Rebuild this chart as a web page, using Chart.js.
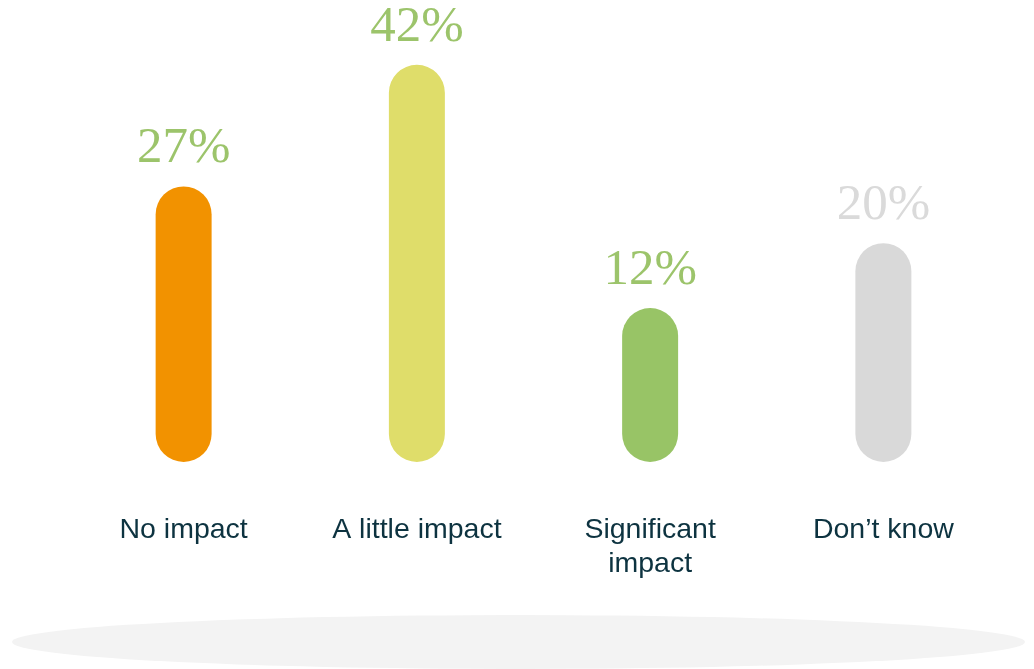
<!DOCTYPE html>
<html>
<head>
  <meta charset="UTF-8">
  <title>Impact</title>
  <script src="https://cdn.jsdelivr.net/npm/chart.js"></script>
  <style>
    html, body { margin: 0; padding: 0; background: #fff; }
    #wrap { position: relative; width: 1034px; height: 669px; overflow: hidden; }
    #shadow { position: absolute; left: 12px; top: 615px; width: 1013px; height: 54px; border-radius: 50%; background: #f3f3f3; }
    canvas { position: absolute; left: 0; top: 0; }
  </style>
</head>
<body>
<div id="wrap">
  <div id="shadow"></div>
  <canvas id="chart" width="1034" height="669"></canvas>
</div>
<script>
  const categories = ['No impact', 'A little impact', ['Significant', 'impact'], 'Don\u2019t know'];
  const values = [27, 42, 12, 20];
  const barColors = ['#f29200', '#dfdd6a', '#98c466', '#d9d9d9'];
  const labelColors = ['#9cc46b', '#9cc46b', '#9cc46b', '#dadada'];

  const valueLabels = {
    id: 'valueLabels',
    afterDatasetsDraw(chart) {
      const ctx = chart.ctx;
      const meta = chart.getDatasetMeta(0);
      ctx.save();
      ctx.font = '51px "Liberation Serif", serif';
      ctx.textAlign = 'center';
      ctx.textBaseline = 'alphabetic';
      meta.data.forEach((bar, i) => {
        ctx.fillStyle = labelColors[i];
        ctx.fillText(values[i] + '%', bar.x, bar.y - 24);
      });
      ctx.restore();
    }
  };

  new Chart(document.getElementById('chart').getContext('2d'), {
    type: 'bar',
    data: {
      labels: categories,
      datasets: [{
        data: values,
        base: -7,
        backgroundColor: barColors,
        borderRadius: 28,
        borderSkipped: false,
        barPercentage: 0.24,
        categoryPercentage: 1
      }]
    },
    options: {
      responsive: false,
      animation: false,
      layout: { padding: { left: 67, right: 34, top: 0, bottom: 0 } },
      plugins: { legend: { display: false }, tooltip: { enabled: false } },
      scales: {
        x: {
          grid: { display: false, drawTicks: false },
          border: { display: false },
          ticks: {
            color: '#0d3340',
            font: { family: 'Arial, "Liberation Sans", sans-serif', size: 28.5, lineHeight: 1.2 },
            padding: 51,
            maxRotation: 0
          },
          afterFit(scale) { scale.height = 207; }
        },
        y: {
          display: false,
          min: -7,
          max: 50
        }
      }
    },
    plugins: [valueLabels]
  });
</script>
</body>
</html>
